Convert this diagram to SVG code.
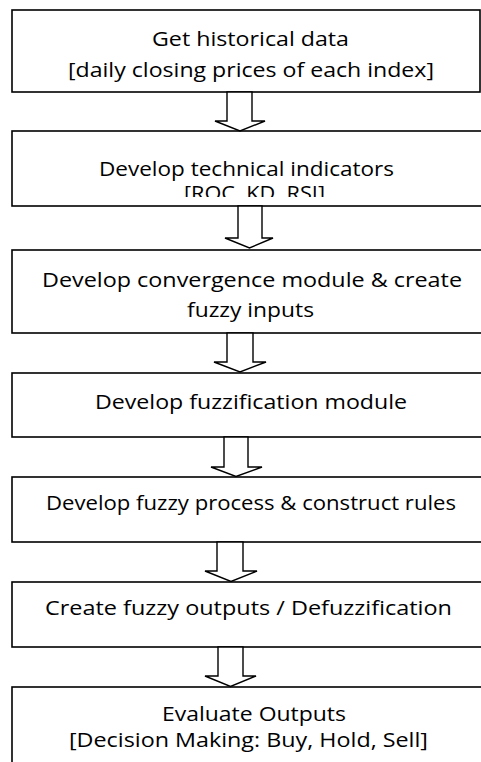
<svg xmlns="http://www.w3.org/2000/svg" width="481" height="762" viewBox="0 0 481 762">
  <style>
    .box { fill: #ffffff; stroke: #000000; stroke-width: 1.6; }
    .arrow { fill: #ffffff; stroke: #000000; stroke-width: 1.4; stroke-linejoin: miter; }
    .label { font-family: "Open Sans", "Liberation Sans", sans-serif; font-size: 19.5px; fill: #000000; }
  </style>
  <defs>
    <clipPath id="clip-indicators">
      <rect x="12" y="131" width="480" height="66"/>
    </clipPath>
  </defs>

  <rect width="481" height="762" fill="#ffffff"/>

  <g id="node-historical-data">
    <rect class="box" x="12" y="10" width="468" height="82"/>
    <text class="label" x="152" y="46" textLength="197" lengthAdjust="spacingAndGlyphs">Get historical data</text>
    <text class="label" x="68" y="77" textLength="366" lengthAdjust="spacingAndGlyphs">[daily closing prices of each index]</text>
  </g>

  <g id="node-technical-indicators">
    <rect class="box" x="12" y="131" width="480" height="75"/>
    <text class="label" x="99" y="176" textLength="295" lengthAdjust="spacingAndGlyphs">Develop technical indicators</text>
    <text class="label" x="184" y="200" textLength="141" lengthAdjust="spacingAndGlyphs" clip-path="url(#clip-indicators)">[ROC, KD, RSI]</text>
  </g>

  <g id="node-convergence">
    <rect class="box" x="12" y="250" width="480" height="83"/>
    <text class="label" x="42" y="287" textLength="420" lengthAdjust="spacingAndGlyphs">Develop convergence module &amp; create</text>
    <text class="label" x="187" y="317" textLength="127" lengthAdjust="spacingAndGlyphs">fuzzy inputs</text>
  </g>

  <g id="node-fuzzification">
    <rect class="box" x="12" y="373" width="480" height="64"/>
    <text class="label" x="95" y="409" textLength="312" lengthAdjust="spacingAndGlyphs">Develop fuzzification module</text>
  </g>

  <g id="node-fuzzy-process">
    <rect class="box" x="12" y="477" width="480" height="65"/>
    <text class="label" x="46" y="510" textLength="410" lengthAdjust="spacingAndGlyphs">Develop fuzzy process &amp; construct rules</text>
  </g>

  <g id="node-defuzzification">
    <rect class="box" x="12" y="582" width="480" height="65"/>
    <text class="label" x="45" y="615" textLength="407" lengthAdjust="spacingAndGlyphs">Create fuzzy outputs / Defuzzification</text>
  </g>

  <g id="node-evaluate">
    <rect class="box" x="12" y="687" width="480" height="90"/>
    <text class="label" x="162" y="721" textLength="184" lengthAdjust="spacingAndGlyphs">Evaluate Outputs</text>
    <text class="label" x="69" y="747" textLength="359" lengthAdjust="spacingAndGlyphs">[Decision Making: Buy, Hold, Sell]</text>
  </g>

  <!-- Block arrows between consecutive steps -->
  <g id="connectors">
    <polygon class="arrow" points="227,92 252,92 252,121 265,121 240,131 215,121 227,121"/>
    <polygon class="arrow" points="238,206 262,206 262,238 273,238 249.5,248 225,238 238,238"/>
    <polygon class="arrow" points="227,333 253,333 253,362 266,362 240,372 214,362 227,362"/>
    <polygon class="arrow" points="224,437 248,437 248,467 262,467 236,476.5 211,467 224,467"/>
    <polygon class="arrow" points="217,542 243,542 243,571 257,571 231,581.5 205,571 217,571"/>
    <polygon class="arrow" points="218,647 243,647 243,676 256,676 230.5,686.5 205,676 218,676"/>
  </g>
</svg>
